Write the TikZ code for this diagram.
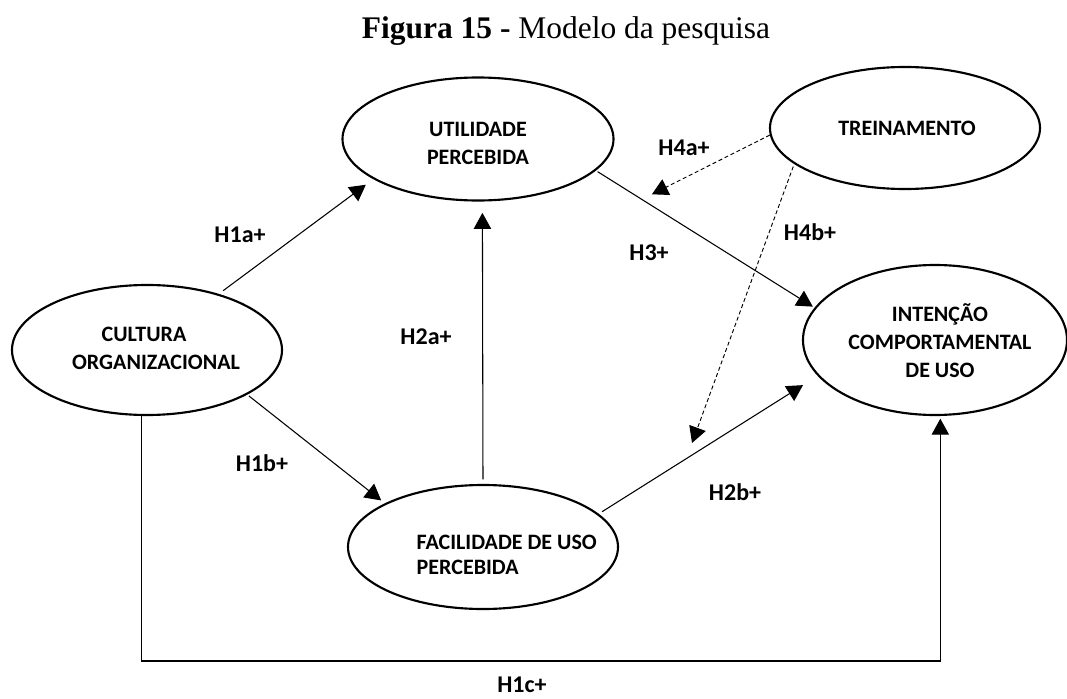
\documentclass[tikz,border=0pt]{standalone}
\usepackage{fontspec}
\setmainfont{Liberation Serif}
\newfontfamily\calib{Carlito}
\usepackage{tikz}
\usetikzlibrary{arrows.meta,shapes.geometric}

\begin{document}
\begin{tikzpicture}[x=0.75pt,y=-0.75pt,>={Triangle[length=12pt,width=13pt]},
    var/.style={ellipse,draw,line width=1.6pt,inner sep=0pt},
    txt/.style={align=center,font=\calib\bfseries\fontsize{16.5}{21}\selectfont},
    lbl/.style={font=\calib\bfseries\fontsize{18}{20}\selectfont},
    conn/.style={->,line width=0.8pt},
    mod/.style={->,line width=0.7pt,dash pattern=on 3pt off 2pt}]

  \useasboundingbox (0,0) rectangle (1067,699);

  \node[anchor=base,font=\fontsize{23.6}{26}\selectfont] (title) at (566,39)
        {\textbf{Figura 15 -} Modelo da pesquisa};

  % construtos
  \node[var,minimum width=202.5pt,minimum height=97.5pt] (cu) at (147,350) {};
  \node[var,minimum width=203.25pt,minimum height=92.25pt] (ut) at (478,139) {};
  \node[var,minimum width=202.5pt,minimum height=93pt] (fa) at (483,547) {};
  \node[var,minimum width=202.5pt,minimum height=91.5pt] (tr) at (905,128) {};
  \node[var,minimum width=198pt,minimum height=112.5pt] (it) at (935,340) {};

  \node[txt] (cu-t) at (156,348) {CULTURA\hspace*{18pt}\\ORGANIZACIONAL};
  \node[txt] (ut-t) at (478,143) {UTILIDADE\\PERCEBIDA};
  \node[txt,align=left,anchor=west,font=\calib\bfseries\fontsize{16.5}{19}\selectfont]
        (fa-t) at (412,555) {FACILIDADE DE USO\\PERCEBIDA};
  \node[txt] (tr-t) at (907,128) {TREINAMENTO};
  \node[txt] (it-t) at (940,341) {INTENÇÃO\\COMPORTAMENTAL\\DE USO};

  % hipoteses
  \draw[conn,shorten <=4pt,shorten >=7pt] (cu.38) -- (ut.201);
  \draw[conn,shorten <=3.5pt,shorten >=8.5pt] (fa.north) -- (ut.274);
  \draw[conn,shorten <=1.5pt,shorten >=3.5pt] (cu.336) -- (fa.156);
  \draw[conn,shorten <=1.5pt,shorten >=1.5pt] (ut.345.5) -- coordinate[pos=0.21] (m3) (it.165.3);
  \draw[conn,shorten <=3pt,shorten >=13pt] (fa.16.7) -- coordinate[pos=0.40] (m2) (it.197.6);
  \draw[conn,shorten >=2pt] (cu.265) -- ++(0,245) -| (it.274);

  \draw[mod,shorten >=8.5pt] (tr.183.4) -- (m3);
  \draw[mod,shorten <=2pt,shorten >=12.5pt] (tr.198.3) -- (m2);

  \node[lbl] (h1a) at (240,235) {H1a+};
  \node[lbl] (h1b) at (262,463) {H1b+};
  \node[lbl] (h1c) at (522,685) {H1c+};
  \node[lbl] (h2a) at (426,337) {H2a+};
  \node[lbl] (h2b) at (735,492) {H2b+};
  \node[lbl] (h3)  at (649,253) {H3+};
  \node[lbl] (h4a) at (684,148) {H4a+};
  \node[lbl] (h4b) at (810,232) {H4b+};
\end{tikzpicture}
\end{document}
